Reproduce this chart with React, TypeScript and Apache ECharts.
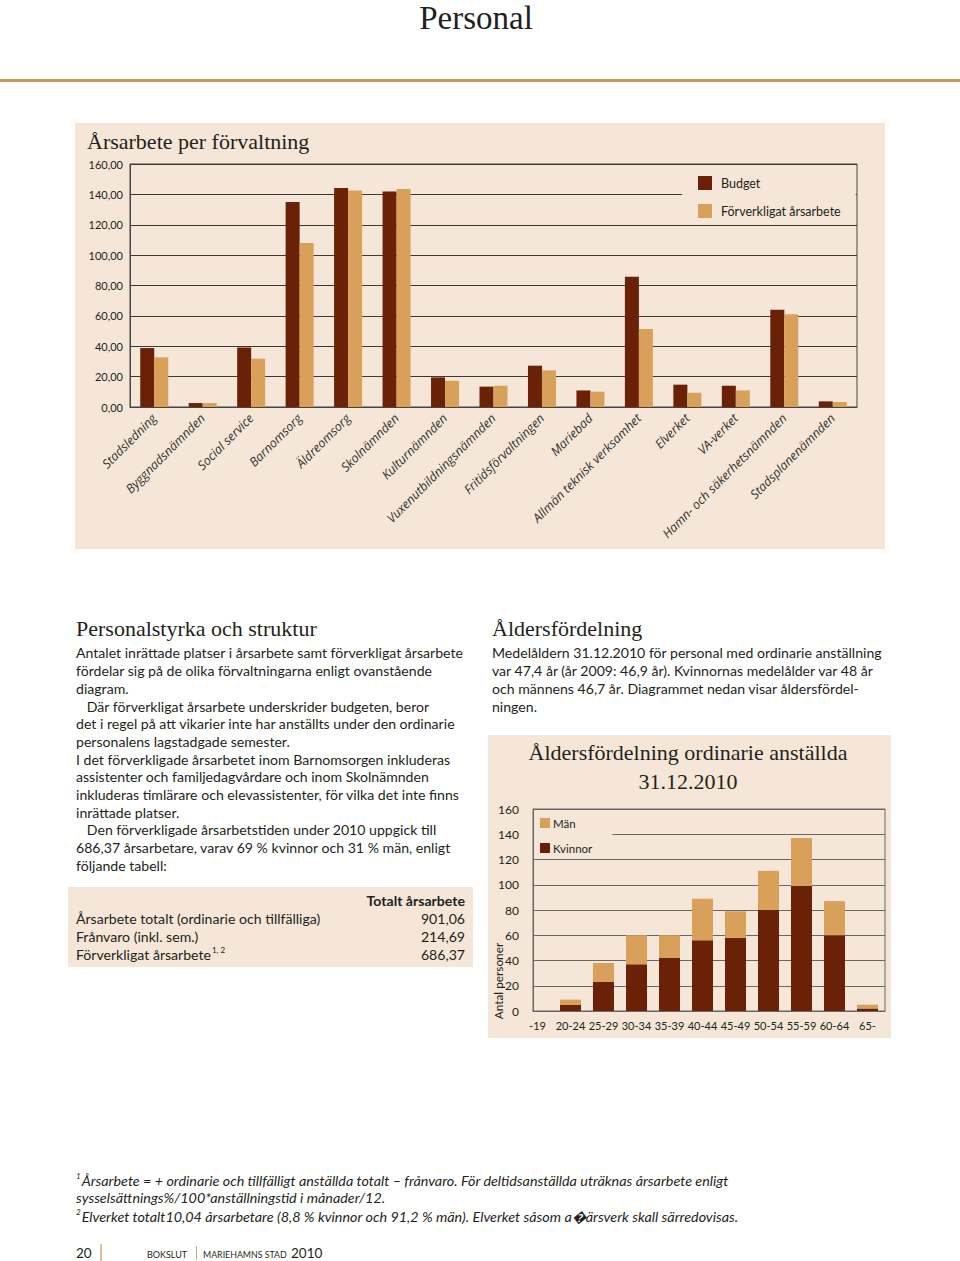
import React, { useEffect, useRef } from "react";
import * as echarts from "echarts";

const categories = [
  "Stadsledning", "Byggnadsnämnden", "Social service", "Barnomsorg", "Äldreomsorg",
  "Skolnämnden", "Kulturnämnden", "Vuxenutbildningsnämnden", "Fritidsförvaltningen", "Mariebad",
  "Allmän teknisk verksamhet", "Elverket", "VA-verket", "Hamn- och säkerhetsnämnden", "Stadsplanenämnden",
];
const budget = [38.8, 2.6, 39.2, 135.0, 144.2, 141.9, 19.5, 13.4, 27.2, 10.9, 85.8, 14.7, 14.0, 64.0, 3.7];
const actual = [32.7, 2.6, 31.8, 108.0, 142.6, 143.5, 17.3, 14.0, 24.1, 10.1, 51.3, 9.4, 10.9, 61.0, 3.3];

const ageGroups = ["-19", "20-24", "25-29", "30-34", "35-39", "40-44", "45-49", "50-54", "55-59", "60-64", "65-"];
const kvinnor = [0, 5, 23, 37, 42, 56, 58, 80, 99, 60, 2];
const man = [0, 4, 15, 23, 18, 33, 21, 31, 38, 27, 3];

const leftText = [
  "Antalet inrättade platser i årsarbete samt förverkligat årsarbete",
  "fördelar sig på de olika förvaltningarna enligt ovanstående",
  "diagram.",
  "   Där förverkligat årsarbete underskrider budgeten, beror",
  "det i regel på att vikarier inte har anställts under den ordinarie",
  "personalens lagstadgade semester.",
  "I det förverkligade årsarbetet inom Barnomsorgen inkluderas",
  "assistenter och familjedagvårdare och inom Skolnämnden",
  "inkluderas timlärare och elevassistenter, för vilka det inte finns",
  "inrättade platser.",
  "   Den förverkligade årsarbetstiden under 2010 uppgick till",
  "686,37 årsarbetare, varav 69 % kvinnor och 31 % män, enligt",
  "följande tabell:",
];
const rightText = [
  "Medelåldern 31.12.2010 för personal med ordinarie anställning",
  "var 47,4 år (år 2009: 46,9 år). Kvinnornas medelålder var 48 år",
  "och männens 46,7 år. Diagrammet nedan visar åldersfördel-",
  "ningen.",
];
const tableRows = ["Årsarbete totalt (ordinarie och tillfälliga)", "Frånvaro (inkl. sem.)", "Förverkligat årsarbete"];
const tableValues = ["901,06", "214,69", "686,37"];

const BROWN = "#6b2106";
const TAN = "#d9a05a";
const BG = "#f5e6d7";
const INK = "#231f20";
const SANS = "Lato";
const SERIF = "Liberation Serif";
const BODY = 14.1;

function txt(x: number, y: number, text: string, extra: any = {}) {
  return {
    type: "text",
    x,
    y,
    style: {
      text,
      fill: INK,
      fontFamily: SANS,
      fontSize: BODY,
      align: "left",
      verticalAlign: "middle",
      textAlign: "left",
      textVerticalAlign: "middle",
      ...extra,
    },
  };
}

export default function App() {
  const ref = useRef<HTMLDivElement>(null);
  useEffect(() => {
    if (!ref.current) return;
    const chart = echarts.init(ref.current, null, { renderer: "svg" });
    const graphics: any[] = [];
    // backgrounds
    graphics.push({ type: "rect", z: -100, shape: { x: 75, y: 123, width: 810, height: 426 }, style: { fill: BG } });
    graphics.push({ type: "rect", z: -100, shape: { x: 488, y: 735, width: 403, height: 303 }, style: { fill: BG } });
    graphics.push({ type: "rect", z: -100, shape: { x: 68, y: 887, width: 405, height: 80 }, style: { fill: BG } });
    // header
    graphics.push(txt(476, 18, "Personal", { fontFamily: SERIF, fontSize: 33, align: "center", textAlign: "center" }));
    graphics.push({ type: "rect", shape: { x: 0, y: 79, width: 960, height: 3 }, style: { fill: "#c9995b" } });
    // chart titles
    graphics.push(txt(87, 141, "Årsarbete per förvaltning", { fontFamily: SERIF, fontSize: 22 }));
    graphics.push(txt(688, 752, "Åldersfördelning ordinarie anställda", { fontFamily: SERIF, fontSize: 22, align: "center", textAlign: "center" }));
    graphics.push(txt(688, 781, "31.12.2010", { fontFamily: SERIF, fontSize: 22, align: "center", textAlign: "center" }));
    graphics.push({
      type: "text",
      x: 498,
      y: 981,
      rotation: Math.PI / 2,
      style: { text: "Antal personer", fill: INK, fontFamily: SANS, fontSize: 11.8, align: "center", verticalAlign: "middle", textAlign: "center", textVerticalAlign: "middle" },
    });
    // section headings
    graphics.push(txt(76, 628, "Personalstyrka och struktur", { fontFamily: SERIF, fontSize: 22 }));
    graphics.push(txt(492, 628, "Åldersfördelning", { fontFamily: SERIF, fontSize: 22 }));
    const leftY = [652, 670, 688, 706, 723, 741, 759, 776, 794, 812, 829, 847, 865];
    leftText.forEach((t, i) => graphics.push(txt(76, leftY[i], t)));
    const rightY = [652, 670, 688, 706];
    rightText.forEach((t, i) => graphics.push(txt(492, rightY[i], t)));
    // table
    graphics.push(txt(465, 900, "Totalt årsarbete", { fontWeight: "bold", align: "right", textAlign: "right" }));
    const rowY = [918, 936, 954];
    tableRows.forEach((t, i) => {
      if (i === 2) {
        graphics.push({
          type: "text",
          x: 76,
          y: rowY[i],
          style: {
            text: "{a|" + t + "}{s|1, 2}",
            fill: INK,
            fontFamily: SANS,
            fontSize: BODY,
            align: "left",
            verticalAlign: "middle",
            textAlign: "left",
            textVerticalAlign: "middle",
            rich: {
              a: { fontFamily: SANS, fontSize: BODY, fill: INK },
              s: { fontFamily: SANS, fontSize: 8, fill: INK, padding: [0, 0, 8, 1] },
            },
          },
        });
      } else {
        graphics.push(txt(76, rowY[i], t));
      }
      graphics.push(txt(465, rowY[i], tableValues[i], { align: "right", textAlign: "right" }));
    });
    // footnotes
    const FN = 14.35;
    const fn = (y: number, s: string, t: string) => ({
      type: "text",
      x: 76,
      y,
      style: {
        text: (s ? "{s|" + s + "}" : "") + "{i|" + t + "}",
        fill: INK,
        fontFamily: SANS,
        fontSize: FN,
        align: "left",
        verticalAlign: "middle",
        textAlign: "left",
        textVerticalAlign: "middle",
        rich: {
          i: { fontFamily: SANS, fontSize: FN, fontStyle: "italic", fill: INK },
          s: { fontFamily: SANS, fontSize: 8, fontStyle: "italic", fill: INK, padding: [0, 1, 8, 0] },
        },
      },
    });
    graphics.push(fn(1180, "1", "Årsarbete = + ordinarie och tillfälligt anställda totalt – frånvaro. För deltidsanställda uträknas årsarbete enligt"));
    graphics.push(fn(1197, "", "sysselsättnings%/100*anställningstid i månader/12."));
    graphics.push(fn(1216, "2", "Elverket totalt10,04 årsarbetare (8,8 % kvinnor och 91,2 % män). Elverket såsom a\uFFFDärsverk skall särredovisas."));
    // footer
    graphics.push(txt(76, 1253, "20", { fontSize: 13.5 }));
    graphics.push({ type: "rect", shape: { x: 100, y: 1244, width: 2, height: 17 }, style: { fill: "#dcc196" } });
    graphics.push(txt(147, 1254, "BOKSLUT", { fontSize: 9 }));
    graphics.push({ type: "rect", shape: { x: 196, y: 1246, width: 1, height: 14 }, style: { fill: "#c8a878" } });
    graphics.push(txt(203, 1254, "MARIEHAMNS STAD", { fontSize: 8.8 }));
    graphics.push(txt(291, 1253, "2010", { fontSize: 13.5 }));

    chart.setOption({
      animation: false,
      backgroundColor: "#ffffff",
      graphic: { elements: graphics },
      grid: [
        { left: 130, top: 164, width: 727, height: 243, show: true, borderColor: "#444", borderWidth: 1, backgroundColor: "transparent" },
        { left: 533, top: 809, width: 352, height: 202, show: true, borderColor: "#666", borderWidth: 1, backgroundColor: "transparent" },
        { left: 521, top: 809, width: 363, height: 202, show: false },
      ],
      legend: [
        {
          data: ["Budget", "Förverkligat årsarbete"],
          orient: "vertical",
          left: 682,
          top: 168,
          itemWidth: 14,
          itemHeight: 14,
          itemGap: 14,
          padding: [8, 15, 4, 16],
          backgroundColor: BG,
          icon: "rect",
          textStyle: { fontFamily: SANS, fontSize: 12.5, color: INK, padding: [0, 0, 0, 4] },
        },
        {
          data: ["Män", "Kvinnor"],
          orient: "vertical",
          left: 534,
          top: 810,
          itemWidth: 10,
          itemHeight: 10,
          itemGap: 13,
          padding: [7, 20, 4, 6],
          backgroundColor: BG,
          icon: "rect",
          textStyle: { fontFamily: SANS, fontSize: 11.5, color: INK, padding: [0, 0, 0, -2] },
        },
      ],
      xAxis: [
        {
          type: "category",
          gridIndex: 0,
          data: categories,
          axisTick: { show: false },
          axisLine: { show: true, lineStyle: { color: "#444", width: 1 } },
          axisLabel: { interval: 0, rotate: 45, margin: 9, fontFamily: "Open Sans", fontStyle: "italic", fontSize: 12.5, color: "#333" },
        },
        {
          type: "category",
          gridIndex: 1,
          data: ageGroups,
          axisTick: { show: false },
          axisLine: { show: true, lineStyle: { color: "#666", width: 1 } },
          axisLabel: { show: false },
        },
        {
          type: "category",
          gridIndex: 2,
          data: ageGroups,
          axisTick: { show: false },
          axisLine: { show: false },
          axisLabel: { interval: 0, margin: 9, fontFamily: SANS, fontSize: 11, color: INK },
        },
      ],
      yAxis: [
        {
          type: "value",
          gridIndex: 0,
          min: 0,
          max: 160,
          interval: 20,
          axisLine: { show: true, lineStyle: { color: "#444" } },
          axisTick: { show: false },
          splitLine: { show: true, lineStyle: { color: "#3a3a3a", width: 1 } },
          axisLabel: { margin: 7, fontFamily: SANS, fontSize: 11, color: INK, padding: [4, 0, 0, 0], formatter: (v: number) => v.toFixed(2).replace(".", ",") },
        },
        {
          type: "value",
          gridIndex: 1,
          min: 0,
          max: 160,
          interval: 20,
          axisLine: { show: true, lineStyle: { color: "#666" } },
          axisTick: { show: false },
          splitLine: { show: true, lineStyle: { color: "#666", width: 1 } },
          axisLabel: { margin: 14, fontFamily: SANS, fontSize: 12, color: INK },
        },
        {
          type: "value",
          gridIndex: 2,
          min: 0,
          max: 160,
          interval: 20,
          show: false,
          splitLine: { show: false },
        },
      ],
      series: [
        { name: "Budget", type: "bar", xAxisIndex: 0, yAxisIndex: 0, data: budget, barWidth: 14, barGap: "0%", itemStyle: { color: BROWN } },
        { name: "Förverkligat årsarbete", type: "bar", xAxisIndex: 0, yAxisIndex: 0, data: actual, barWidth: 14, barGap: "0%", itemStyle: { color: TAN } },
        { name: "Kvinnor", type: "bar", stack: "age", xAxisIndex: 2, yAxisIndex: 2, data: kvinnor, barWidth: 21, itemStyle: { color: BROWN } },
        { name: "Män", type: "bar", stack: "age", xAxisIndex: 2, yAxisIndex: 2, data: man, barWidth: 21, itemStyle: { color: TAN } },
      ],
    });
    return () => chart.dispose();
  }, []);
  return <div ref={ref} style={{ position: "absolute", left: 0, top: 0, width: 960, height: 1261 }} />;
}
